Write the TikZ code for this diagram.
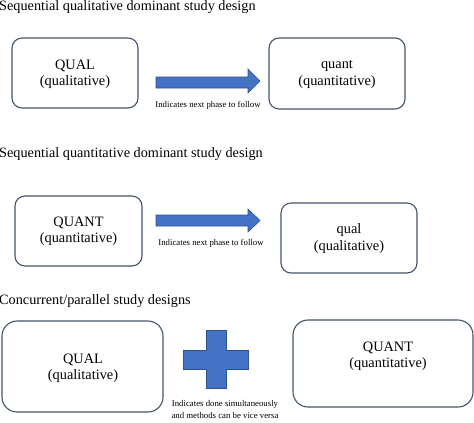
\documentclass[tikz,border=0pt]{standalone}
\usepackage{fontspec}
\setmainfont{Liberation Serif}
\usetikzlibrary{positioning}
\definecolor{boxline}{HTML}{44546A}
\definecolor{blockfill}{HTML}{4472C4}
\definecolor{blockline}{HTML}{2F528F}
\tikzset{
  title/.style={anchor=base west,inner sep=0pt,font=\fontsize{14.3}{16}\selectfont},
  phase/.style={draw=boxline,line width=1.1bp,rounded corners=10bp,fill=white},
  phasetext/.style={align=center,inner sep=0pt,font=\fontsize{14.4}{16.5}\selectfont},
  hint/.style={align=center,inner sep=0pt,font=\fontsize{8.8}{12}\selectfont},
  block/.style={fill=blockfill,draw=blockline,line width=0.6bp}
}
\begin{document}
\begin{tikzpicture}[x=1bp,y=-1bp]
  \useasboundingbox (0,0) rectangle (474,422);
  % sequential, qualitative first
  \node[title] (seqqual) at (-1,10) {Sequential qualitative dominant study design};
  \draw[phase] (12,38) rectangle (138,108);
  \node[phasetext] (qualA) at (75,74) {QUAL\\(qualitative)};
  \draw[block] (156,77) -- (248,77) -- (248,69) -- (260,81) -- (248,93) -- (248,88) -- (156,88) -- cycle;
  \node[hint] (nextA) at (208,105) {Indicates next phase to follow};
  \draw[phase] (269,38) rectangle (405,109);
  \node[phasetext] (quantA) at (337,74.5) {quant\\(quantitative)};
  % sequential, quantitative first
  \node[title] (seqquant) at (-1,157) {Sequential quantitative dominant study design};
  \draw[phase] (15,196) rectangle (142,266);
  \node[phasetext] (quantB) at (78.5,231.5) {QUANT\\(quantitative)};
  \draw[block] (156,215) -- (248,215) -- (248,209) -- (260,220.5) -- (248,232) -- (248,226) -- (156,226) -- cycle;
  \node[hint] (nextB) at (211,243) {Indicates next phase to follow};
  \draw[phase] (281,203) rectangle (417,273);
  \node[phasetext] (qualB) at (349,238.5) {qual\\(qualitative)};
  % concurrent
  \node[title] (concur) at (-1,304) {Concurrent/parallel study designs};
  \draw[phase,rounded corners=15bp] (2,321) rectangle (163,412);
  \node[phasetext] (qualC) at (83,368.5) {QUAL\\(qualitative)};
  \draw[block] (206,330) -- (226,330) -- (226,350) -- (248,350) -- (248,369) -- (226,369)
    -- (226,388) -- (206,388) -- (206,369) -- (183,369) -- (183,350) -- (206,350) -- cycle;
  \node[hint] (simul) at (225,409.5) {Indicates done simultaneously\\and methods can be vice versa};
  \draw[phase,rounded corners=15bp] (293,320) rectangle (473,407);
  \node[phasetext] (quantC) at (388,356) {QUANT\\(quantitative)};
\end{tikzpicture}
\end{document}
